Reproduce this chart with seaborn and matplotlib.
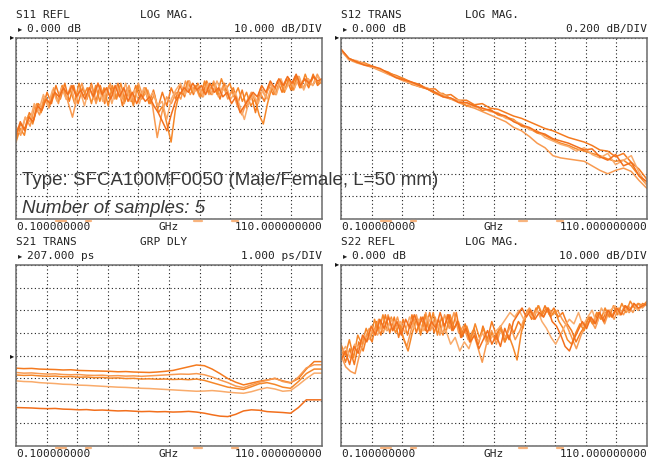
import numpy as np
import pandas as pd
import matplotlib.pyplot as plt
import seaborn as sns
from matplotlib.lines import Line2D

# S11 REFL (dB), 5 amostras (varredura 0.1 - 110 GHz)
s11_a = [-45, -38, -40, -33, -36, -29, -31, -24, -29, -21,
         -27, -20, -28, -21, -29, -22, -27, -20, -28, -21,
         -29, -21, -26, -20, -30, -22, -28, -21, -27, -22,
         -29, -23, -31, -24, -30, -22, -27, -21, -26, -19,
         -25, -20, -26, -19, -25, -21, -27, -20, -26, -22,
         -29, -23, -31, -25, -33, -24, -28, -21, -25, -19,
         -24, -18, -23, -17, -22, -18, -22, -16, -21, -19]
s11_b = [-39, -43, -35, -39, -30, -34, -26, -31, -22, -29,
         -21, -28, -35, -26, -20, -27, -21, -29, -22, -28,
         -20, -27, -22, -29, -21, -28, -20, -26, -23, -30,
         -44, -33, -26, -29, -24, -27, -19, -25, -21, -26,
         -20, -25, -19, -26, -21, -27, -23, -30, -34, -28,
         -24, -29, -22, -26, -20, -25, -19, -24, -18, -23,
         -17, -22, -18, -21, -16, -20]
s11_c = [-46, -40, -43, -34, -38, -29, -33, -26, -30, -23,
         -28, -21, -27, -23, -29, -20, -26, -22, -29, -21,
         -28, -22, -30, -21, -27, -20, -28, -23, -30, -21,
         -27, -22, -29, -25, -33, -30, -38, -46, -32, -24,
         -25, -19, -24, -21, -26, -19, -24, -20, -25, -18,
         -23, -20, -26, -22, -28, -24, -30, -27, -34, -38,
         -29, -22, -25, -19, -24, -18, -23, -17, -22, -16,
         -21, -17, -20, -18]
s11_d = [-41, -42, -35, -37, -29, -32, -25, -30, -23, -28,
         -22, -27, -21, -29, -23, -30, -22, -27, -20, -28,
         -22, -29, -21, -27, -20, -28, -23, -29, -22, -27,
         -24, -30, -28, -36, -27, -23, -20, -25, -19, -24,
         -21, -26, -20, -25, -19, -24, -21, -27, -24, -30,
         -36, -28, -25, -29, -23, -27, -21, -25, -18, -23,
         -19, -22, -17, -23, -18, -21, -17, -20]
s11_e = [-43, -37, -41, -35, -37, -30, -32, -27, -29, -24,
         -26, -22, -25, -21, -26, -23, -27, -22, -26, -20,
         -25, -22, -27, -21, -26, -22, -28, -24, -29, -25,
         -28, -26, -30, -33, -37, -41, -34, -28, -25, -22,
         -24, -20, -23, -21, -25, -20, -24, -22, -26, -24,
         -29, -26, -33, -30, -27, -24, -26, -21, -24, -19,
         -22, -18, -21, -17, -20, -16, -21, -18, -20, -17,
         -19, -18]

# S12 TRANS (dB)
s12_a = [-0.10, -0.19, -0.21, -0.23, -0.25, -0.28, -0.31, -0.33, -0.36, -0.39,
         -0.41, -0.45, -0.45, -0.51, -0.50, -0.55, -0.55, -0.59, -0.58, -0.62,
         -0.63, -0.66, -0.69, -0.71, -0.74, -0.77, -0.80, -0.82, -0.85, -0.88,
         -0.90, -0.92, -0.95, -0.99, -1.00, -1.05, -1.02, -1.10, -1.16, -1.25]
s12_b = [-0.11, -0.19, -0.22, -0.24, -0.26, -0.29, -0.32, -0.35, -0.38, -0.40,
         -0.43, -0.45, -0.49, -0.52, -0.54, -0.57, -0.60, -0.62, -0.65, -0.68,
         -0.71, -0.74, -0.79, -0.82, -0.87, -0.93, -0.97, -1.04, -1.06, -1.07,
         -1.08, -1.09, -1.13, -1.17, -1.20, -1.17, -1.15, -1.18, -1.26, -1.33]
s12_c = [-0.10, -0.18, -0.21, -0.22, -0.25, -0.28, -0.30, -0.34, -0.36, -0.41,
         -0.43, -0.45, -0.49, -0.49, -0.54, -0.55, -0.60, -0.59, -0.64, -0.63,
         -0.68, -0.70, -0.72, -0.78, -0.80, -0.84, -0.86, -0.90, -0.93, -0.95,
         -0.98, -1.00, -1.02, -1.04, -1.07, -1.09, -1.08, -1.13, -1.22, -1.30]
s12_d = [-0.11, -0.19, -0.20, -0.23, -0.26, -0.28, -0.32, -0.34, -0.38, -0.40,
         -0.43, -0.44, -0.48, -0.50, -0.54, -0.55, -0.58, -0.61, -0.62, -0.65,
         -0.66, -0.71, -0.73, -0.76, -0.81, -0.82, -0.88, -0.91, -0.94, -0.96,
         -1.00, -0.97, -1.03, -1.06, -1.02, -1.12, -1.08, -1.04, -1.19, -1.30]
s12_e = [-0.10, -0.18, -0.21, -0.24, -0.25, -0.27, -0.31, -0.35, -0.37, -0.39,
         -0.42, -0.45, -0.48, -0.52, -0.53, -0.57, -0.57, -0.60, -0.62, -0.64,
         -0.67, -0.69, -0.74, -0.77, -0.79, -0.83, -0.85, -0.89, -0.91, -0.93,
         -0.96, -0.99, -0.98, -1.05, -1.08, -1.03, -1.13, -1.10, -1.22, -1.27]

# S21 GRP DLY (ps)
s21_a = [206.44, 206.42, 206.43, 206.40, 206.39, 206.38, 206.36, 206.37, 206.34, 206.33,
         206.32, 206.31, 206.30, 206.28, 206.29, 206.27, 206.26, 206.25, 206.27, 206.30,
         206.34, 206.42, 206.50, 206.58, 206.55, 206.40, 206.20, 205.98, 205.82, 205.70,
         205.78, 205.86, 205.92, 205.98, 205.88, 205.80, 205.98, 206.40, 206.73, 206.73]
s21_b = [206.25, 206.22, 206.23, 206.20, 206.18, 206.19, 206.16, 206.15, 206.16, 206.13,
         206.12, 206.13, 206.10, 206.11, 206.09, 206.10, 206.08, 206.10, 206.12, 206.14,
         206.16, 206.18, 206.17, 206.20, 206.15, 206.05, 205.92, 205.80, 205.65, 205.58,
         205.70, 205.82, 205.90, 206.00, 205.85, 205.78, 206.05, 206.45, 206.59, 206.59]
s21_c = [206.14, 206.12, 206.13, 206.10, 206.08, 206.09, 206.06, 206.07, 206.04, 206.05,
         206.02, 206.03, 206.00, 206.01, 205.98, 205.99, 205.96, 205.97, 205.95, 205.96,
         205.94, 205.95, 205.93, 205.96, 205.90, 205.80, 205.70, 205.60, 205.55, 205.50,
         205.62, 205.75, 205.80, 205.72, 205.60, 205.55, 205.85, 206.20, 206.40, 206.40]
s21_d = [205.88, 205.85, 205.84, 205.80, 205.78, 205.76, 205.73, 205.72, 205.69, 205.68,
         205.66, 205.64, 205.62, 205.60, 205.59, 205.57, 205.55, 205.54, 205.52, 205.50,
         205.48, 205.46, 205.44, 205.42, 205.43, 205.45, 205.42, 205.38, 205.35, 205.33,
         205.40, 205.50, 205.58, 205.52, 205.42, 205.45, 205.70, 205.98, 206.22, 206.22]
s21_e = [204.70, 204.69, 204.68, 204.66, 204.65, 204.66, 204.63, 204.62, 204.60, 204.61,
         204.58, 204.59, 204.57, 204.55, 204.56, 204.54, 204.52, 204.53, 204.51, 204.52,
         204.50, 204.51, 204.53, 204.50, 204.45, 204.38, 204.32, 204.30, 204.40, 204.55,
         204.60, 204.58, 204.52, 204.50, 204.48, 204.45, 204.70, 205.04, 205.04, 205.04]

# S22 REFL (dB)
s22_a = [-36, -43, -37, -44, -34, -38, -30, -34, -25, -31,
         -22, -30, -23, -32, -24, -31, -22, -30, -23, -29,
         -21, -30, -24, -31, -22, -29, -21, -32, -26, -34,
         -28, -35, -27, -33, -25, -31, -27, -34, -26, -30,
         -25, -28, -20, -24, -19, -23, -18, -22, -19, -23,
         -21, -26, -29, -34, -30, -27, -23, -26, -21, -24,
         -20, -23, -19, -22, -18, -21, -17, -20, -17, -18]
s22_b = [-40, -45, -47, -48, -39, -33, -28, -31, -24, -30,
         -22, -29, -23, -31, -36, -28, -22, -30, -21, -29,
         -23, -31, -22, -28, -21, -30, -27, -33, -29, -36,
         -43, -34, -29, -35, -28, -32, -27, -33, -29, -23,
         -19, -22, -18, -23, -19, -22, -20, -24, -27, -32,
         -37, -31, -27, -24, -28, -22, -26, -20, -24, -19,
         -22, -18, -21, -17, -19, -17]
s22_c = [-35, -40, -33, -41, -31, -35, -28, -33, -24, -30,
         -22, -29, -23, -30, -26, -33, -38, -30, -24, -31,
         -22, -29, -21, -31, -23, -30, -22, -28, -25, -31,
         -27, -33, -26, -32, -28, -35, -30, -33, -27, -34,
         -31, -36, -42, -30, -23, -20, -24, -18, -22, -19,
         -23, -20, -25, -28, -33, -35, -30, -26, -29, -23,
         -26, -21, -24, -19, -23, -18, -22, -17, -21, -16,
         -19, -17, -18, -16]
s22_d = [-39, -36, -41, -35, -37, -31, -33, -28, -31, -26,
         -29, -24, -28, -25, -30, -23, -28, -24, -29, -23,
         -27, -25, -30, -29, -35, -32, -38, -34, -37, -31,
         -34, -30, -35, -32, -29, -27, -24, -21, -23, -20,
         -24, -21, -23, -20, -25, -28, -32, -35, -31, -27,
         -24, -26, -21, -27, -23, -20, -26, -19, -22, -20,
         -18, -22, -19, -21, -17, -20, -18, -17]
s22_e = [-42, -38, -44, -36, -39, -31, -34, -27, -31, -24,
         -28, -23, -29, -25, -31, -24, -28, -22, -27, -23,
         -30, -25, -28, -21, -27, -22, -29, -25, -32, -28,
         -34, -31, -37, -33, -29, -35, -31, -36, -28, -33,
         -25, -22, -19, -23, -20, -24, -21, -23, -19, -25,
         -27, -31, -36, -38, -33, -29, -25, -28, -23, -26,
         -21, -25, -20, -23, -19, -22, -18, -20, -17, -19,
         -18, -17]

cores = ['#f47a1f', '#f89a50', '#f58729', '#f9ab6b', '#f26f1c']
W, H = 653, 459


def px(x, y):
    return x / W, 1 - y / H


def montar(traces):
    frames = []
    for i, t in enumerate(traces):
        freq = np.linspace(0.1, 110, len(t))
        frames.append(pd.DataFrame({'freq': freq, 'valor': t, 'amostra': f'#{i + 1}'}))
    return pd.concat(frames, ignore_index=True)


sns.set_style("white")
plt.rcParams['font.family'] = ['DejaVu Sans Mono', 'DejaVu Sans']

fig = plt.figure(figsize=(W / 100, H / 100), dpi=100)
fig.patch.set_facecolor('white')


def painel(x0, y0, df, ylim):
    ax = fig.add_axes([x0 / W, 1 - (y0 + 181) / H, 306 / W, 181 / H])
    sns.lineplot(data=df, x='freq', y='valor', hue='amostra', palette=cores,
                 legend=False, estimator=None, sort=False, linewidth=1.1, ax=ax)
    ax.set_xlim(0.1, 110)
    ax.set_ylim(*ylim)
    ax.set_xticks(np.linspace(0.1, 110, 11))
    ax.set_yticks(np.linspace(ylim[0], ylim[1], 9))
    ax.tick_params(length=0, labelbottom=False, labelleft=False)
    ax.set_xlabel('')
    ax.set_ylabel('')
    ax.grid(True, color='#1e1e1e', linestyle=(0, (1, 2.3)), linewidth=0.8)
    ax.set_axisbelow(True)
    for s in ax.spines.values():
        s.set_color('#6b6b6b')
        s.set_linewidth(1.1)
    return ax


def cabecalho(x0, y0, canal, formato, ref, escala, yref):
    kw = dict(fontsize=8, color='#222222', va='center')
    fig.text(*px(x0, y0 - 23), canal, ha='left', **kw)
    fig.text(*px(x0 + 124, y0 - 23), formato, ha='left', **kw)
    fig.text(*px(x0 + 2, y0 - 9), '▸', ha='left', fontsize=6, color='#222222',
             va='center', family='DejaVu Sans')
    fig.text(*px(x0 + 11, y0 - 9), ref, ha='left', **kw)
    fig.text(*px(x0 + 306, y0 - 9), escala, ha='right', **kw)
    fig.text(*px(x0 - 6, yref), '▸', ha='left', fontsize=6, color='#111111',
             va='center', family='DejaVu Sans')
    fig.text(*px(x0, y0 + 189), '0.100000000', ha='left', **kw)
    fig.text(*px(x0 + 153, y0 + 189), 'GHz', ha='center', **kw)
    fig.text(*px(x0 + 306, y0 + 189), '110.000000000', ha='right', **kw)
    # marcas laranja abaixo da grade
    for a, b in [(40, 50), (70, 75), (178, 186), (216, 222)]:
        fig.add_artist(Line2D([(x0 + a) / W, (x0 + b) / W], [1 - (y0 + 183) / H] * 2,
                              color='#f7a25e', linewidth=1.6, alpha=0.8))


painel(16, 38, montar([s11_a, s11_b, s11_c, s11_d, s11_e]), (-80, 0))
painel(341, 38, montar([s12_a, s12_b, s12_c, s12_d, s12_e]), (-1.6, 0))
painel(16, 265, montar([s21_a, s21_b, s21_c, s21_d, s21_e]), (203, 211))
painel(341, 265, montar([s22_a, s22_b, s22_c, s22_d, s22_e]), (-80, 0))

cabecalho(16, 38, 'S11 REFL', 'LOG MAG.', '0.000 dB', '10.000 dB/DIV', 37)
cabecalho(341, 38, 'S12 TRANS', 'LOG MAG.', '0.000 dB', '0.200 dB/DIV', 37)
cabecalho(16, 265, 'S21 TRANS', 'GRP DLY', '207.000 ps', '1.000 ps/DIV', 356)
cabecalho(341, 265, 'S22 REFL', 'LOG MAG.', '0.000 dB', '10.000 dB/DIV', 264)

fig.text(*px(22, 185), 'Type: SFCA100MF0050 (Male/Female, L=50 mm)', ha='left',
         va='baseline', fontsize=13.5, color='#383838',
         family=['Liberation Sans', 'DejaVu Sans'])
fig.text(*px(22, 213), 'Number of samples: 5', ha='left', va='baseline',
         fontsize=13.5, color='#383838', style='italic',
         family=['Liberation Sans', 'DejaVu Sans'])

plt.savefig('out.png', dpi=100)
plt.close()
